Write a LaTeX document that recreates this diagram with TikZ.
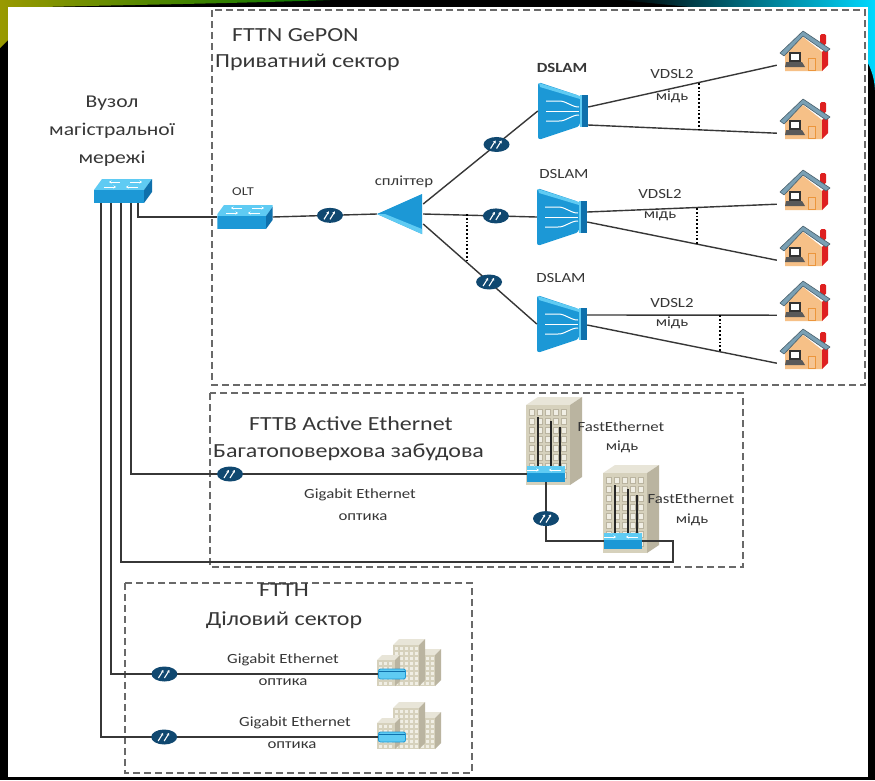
\documentclass[tikz,border=0pt]{standalone}
\usepackage{fontspec}
\setmainfont{Carlito}[FakeStretch=1.2]
\usetikzlibrary{arrows.meta,shapes.geometric,calc}

\definecolor{inkgray}{RGB}{55,55,55}
\definecolor{zonegray}{RGB}{105,105,105}
\definecolor{ciscoblue}{RGB}{28,152,214}
\definecolor{ciscolight}{RGB}{95,203,243}
\definecolor{ciscodeep}{RGB}{14,112,172}
\definecolor{linknavy}{RGB}{16,72,112}
\definecolor{wallsand}{RGB}{246,192,135}
\definecolor{roofslate}{RGB}{122,160,180}
\definecolor{brickred}{RGB}{222,32,32}
\definecolor{dooramber}{RGB}{236,150,60}
\definecolor{stone}{RGB}{214,209,188}
\definecolor{stoneside}{RGB}{186,180,160}
\definecolor{stonetop}{RGB}{232,229,216}
\definecolor{stonewin}{RGB}{240,238,228}

% one block of an office building: x, y (top left of front), width, height, depth
\newcommand\officeblock[5]{%
  \fill[stonetop] (#1,#2) -- ++(#5,-#5) -- ++(#3,0) -- ++(-#5,#5) -- cycle;
  \fill[stoneside] (#1+#3,#2) -- ++(#5,-#5) -- ++(0,#4) -- ++(-#5,#5) -- cycle;
  \fill[stone] (#1,#2) rectangle ++(#3,#4);
  \pgfmathtruncatemacro\ncols{(#3-1)/5}%
  \pgfmathtruncatemacro\nrows{(#4-1)/5}%
  \foreach \i in {1,...,\ncols}
    \foreach \j in {1,...,\nrows}
      \fill[stonewin] (#1-3+\i*5,#2-3+\j*5) rectangle ++(3,3);
}

\tikzset{
  % workgroup switch, #1 = scale
  swt/.style={minimum width=#1*58pt, minimum height=#1*24pt, inner sep=0pt,
    path picture={
      \begin{scope}[shift={(path picture bounding box.center)}, scale=#1]
        \fill[ciscolight] (-29,-1) -- (-21,-12) -- (29,-12) -- (21,-1) -- cycle;
        \fill[ciscoblue] (-29,-1) rectangle (21,12);
        \fill[ciscodeep] (21,-1) -- (29,-12) -- (29,1) -- (21,12) -- cycle;
        \draw[white, line width=0.8pt, -{Stealth[length=2.5pt,width=3pt]}] (-3,-9) -- (-14,-9);
        \draw[white, line width=0.8pt, -{Stealth[length=2.5pt,width=3pt]}] (7,-9) -- (19,-9);
        \draw[white, line width=0.8pt, -{Stealth[length=2.5pt,width=3pt]}] (-19,-4) -- (-7,-4);
        \draw[white, line width=0.8pt, -{Stealth[length=2.5pt,width=3pt]}] (15,-4) -- (3,-4);
      \end{scope}}},
  swt/.default=1,
  % optical link
  lnk/.style={ellipse, fill=linknavy, minimum width=26pt, minimum height=15pt, inner sep=0pt,
    path picture={
      \begin{scope}[shift={(path picture bounding box.center)}]
        \draw[white, line width=1.1pt, -{Stealth[length=2.6pt,width=3.2pt]}] (-6,4) -- (-1,-4);
        \draw[white, line width=1.1pt, -{Stealth[length=2.6pt,width=3.2pt]}] (0,4) -- (5,-4);
      \end{scope}}},
  dslam/.style={minimum width=50pt, minimum height=58pt, inner sep=0pt,
    path picture={
      \begin{scope}[shift={(path picture bounding box.center)}]
        \fill[ciscoblue, rounded corners=3pt] (-25,-29) -- (17,-15) -- (17,15) -- (-25,29) -- cycle;
        \fill[ciscolight] (-24,-28) -- (17,-15) -- (17,-12) -- (-23,-24) -- cycle;
        \fill[ciscodeep] (17,-16) rectangle (25,16);
        \fill[ciscolight] (17,-16) rectangle (19,16);
        \draw[white, line width=1pt] (-17,-10) -- (-4,-10) .. controls (4,-10) and (8,-4) .. (16,-4);
        \draw[white, line width=1pt] (-17,0) -- (16,0);
        \draw[white, line width=1pt] (-17,10) -- (-4,10) .. controls (4,10) and (8,4) .. (16,4);
      \end{scope}}},
  splitter/.style={minimum width=46pt, minimum height=40pt, inner sep=0pt,
    path picture={
      \begin{scope}[shift={(path picture bounding box.center)}]
        \fill[ciscoblue] (-23,0) -- (22,-20) -- (22,20) -- cycle;
        \fill[ciscolight] (-23,0) -- (22,20) -- (22,15) -- (-15,0) -- cycle;
      \end{scope}}},
  house/.style={minimum width=56pt, minimum height=42pt, inner sep=0pt,
    path picture={
      \begin{scope}[shift={(path picture bounding box.center)}]
        \fill[wallsand] (-20,2) -- (-2,-13) -- (17,2) -- (17,21) -- (-20,21) -- cycle;
        \fill[brickred] (17,2) -- (23,-3) -- (23,15) -- (17,21) -- cycle;
        \fill[brickred, rounded corners=1.5pt] (15,-16) rectangle (21,-5);
        \fill[roofslate, draw=roofslate!60!black, line width=0.6pt, line join=round]
          (-25,3) -- (-2,-19) -- (25,-1) -- (21,2) -- (-2,-14) -- (-21,6) -- cycle;
        \fill[dooramber!55, draw=dooramber, line width=0.8pt] (3,8) rectangle (10,20);
        \fill[white, draw=black!80, line width=1.3pt] (-15,3) rectangle (-5,11);
        \fill[black!65] (-19,12) -- (-3,12) -- (0,17) -- (-20,17) -- cycle;
      \end{scope}}},
  tower/.style={minimum width=56pt, minimum height=88pt, inner sep=0pt,
    path picture={
      \begin{scope}[shift={(path picture bounding box.center)}]
        \fill[stonetop] (-28,-36) -- (-16,-44) -- (28,-44) -- (16,-36) -- cycle;
        \fill[stoneside] (16,-36) -- (28,-44) -- (28,36) -- (16,44) -- cycle;
        \fill[stone] (-28,-36) rectangle (16,44);
        \foreach \i in {0,...,4}
          \foreach \j in {0,...,7}
            \fill[stonewin, draw=stoneside, line width=0.3pt] (-25+\i*8,-32+\j*9) rectangle ++(5,6);
        \draw[black!85, line width=1.3pt] (-16,-24) -- (-16,30) (-3,-20) -- (-3,30) (6,-14) -- (6,30);
      \end{scope}}},
  office/.style={minimum width=64pt, minimum height=50pt, inner sep=0pt,
    path picture={
      \begin{scope}[shift={(path picture bounding box.center)}]
        \officeblock{10}{-6}{16}{31}{6}
        \officeblock{-16}{-16}{26}{41}{6}
        \officeblock{-32}{-1}{18}{26}{5}
      \end{scope}}},
  ont/.style={minimum width=27pt, minimum height=10pt, inner sep=0pt, rounded corners=2pt,
    fill=ciscolight, draw=ciscoblue, line width=0.8pt,
    path picture={\draw[ciscodeep, line width=1.6pt]
      ([yshift=-2.5pt]path picture bounding box.north west) -- ([yshift=-2.5pt]path picture bounding box.north east);}}
}

\begin{document}
\begin{tikzpicture}[x=1pt, y=-1pt,
    wire/.style={draw=inkgray, line width=1.4pt},
    zone/.style={draw=zonegray, line width=1.2pt, dash pattern=on 7pt off 4pt},
    vmark/.style={draw=black, line width=1.8pt, dotted},
    ttl/.style={font=\fontsize{20}{28}\selectfont, text=inkgray, inner sep=0pt},
    lab/.style={font=\fontsize{14}{16}\selectfont, text=inkgray, inner sep=0pt}
  ]
  \useasboundingbox (0,0) rectangle (875,780);
  % slide frame
  \fill[black] (0,0) rectangle (875,780);
  \shade[left color=olive!80!yellow, right color=green!45!black]
    (0,0) -- (330,0) .. controls (220,4) and (60,6) .. (8,8) -- (8,40) -- (0,48) -- cycle;
  \shade[left color=black, right color=cyan!85!blue]
    (620,0) -- (875,0) -- (875,90) .. controls (872,30) and (800,8) .. (690,7) -- cycle;
  \fill[white] (8,7) rectangle (868,777);

  % zones
  \draw[zone] (212,10) rectangle (865,385);
  \draw[zone] (210,393) rectangle (743,567);
  \draw[zone] (125,583) rectangle (472,773);

  % titles
  \node[ttl, align=center, font=\fontsize{18}{28}\selectfont] (hub) at (112,131) {Вузол\\магістральної\\мережі};
  \node[ttl, anchor=west] (gptitle) at (232,35) {FTTN GePON};
  \node[ttl, anchor=west] (gpsub) at (215,62) {Приватний сектор};
  \node[ttl, anchor=west] (fbtitle) at (249,424) {FTTB Active Ethernet};
  \node[ttl, anchor=west] (fbsub) at (213,452) {Багатоповерхова забудова};
  \node[ttl] (fhtitle) at (284,590) {FTTH};
  \node[ttl] (fhsub) at (284,620) {Діловий сектор};

  % equipment
  \node[swt] (core) at (123,191) {};
  \node[swt=0.95] (olt) at (245,217) {};
  \node[lab, font=\fontsize{12}{14}\selectfont] (oltlab) at (243,192) {OLT};
  \node[splitter] (sp) at (400,214) {};
  \node[lab] (splab) at (404,182) {спліттер};
  \node[dslam] (d1) at (563,111) {};
  \node[dslam] (d2) at (562,217) {};
  \node[dslam] (d3) at (562,324) {};
  \node[lab, font=\fontsize{14}{16}\selectfont\bfseries] (d1lab) at (562,68) {DSLAM};
  \node[lab] (d2lab) at (564,174) {DSLAM};
  \node[lab] (d3lab) at (561,278) {DSLAM};
  \foreach \n/\y in {1/50, 2/118, 3/189, 4/245, 5/300, 6/348}
    \node[house] (h\n) at (805,\y) {};
  \node[tower] (fb1) at (554,441) {};
  \node[tower] (fb2) at (631,509) {};
  \node[swt=0.65] (fb1sw) at (546,474) {};
  \node[swt=0.65] (fb2sw) at (623,541) {};
  \node[office] (fh1) at (409,661) {};
  \node[office] (fh2) at (409,724) {};
  \node[ont] (fh1sw) at (392,674) {};
  \node[ont] (fh2sw) at (392,737) {};

  % GePON tree
  \draw[wire] (138,0 |- core.south) |- (olt.west);
  \draw[wire] (olt.east) -- node[lnk, pos=0.55] (gpl0) {} (sp.west);
  \draw[wire] ($(sp.east)+(0,-10)$) -- node[lnk, pos=0.64] (gpl1) {} (d1.west);
  \draw[wire] (sp.east) -- node[lnk, pos=0.64] (gpl2) {} (d2.west);
  \draw[wire] ($(sp.east)+(0,10)$) -- node[lnk, pos=0.58] (gpl3) {} (d3.west);
  \draw[vmark, line width=1.2pt] (467,214) -- (467,262);

  % copper drops
  \draw[wire] ($(d1.east)+(0,-4)$) -- ($(h1.south west)+(0,-6)$);
  \draw[wire] ($(d1.east)+(0,14)$) -- ($(h2.south west)+(0,-6)$);
  \draw[wire] ($(d2.east)+(0,-5)$) -- ($(h3.south west)+(0,-6)$);
  \draw[wire] ($(d2.east)+(0,5)$) -- ($(h4.south west)+(0,-6)$);
  \draw[wire] ($(d3.east)+(0,-9)$) -- ($(h5.south west)+(0,-6)$);
  \draw[wire] ($(d3.east)+(0,1)$) -- ($(h6.south west)+(0,-6)$);
  \draw[vmark] (699,83) -- (699,129);
  \draw[vmark] (697,208) -- (697,244);
  \draw[vmark] (720,315) -- (720,351);
  \node[lab] (v1a) at (672,74) {VDSL2};
  \node[lab] (v1b) at (672,97) {мідь};
  \node[lab] (v2a) at (660,194) {VDSL2};
  \node[lab] (v2b) at (660,215) {мідь};
  \node[lab] (v3a) at (672,303) {VDSL2};
  \node[lab] (v3b) at (672,323) {мідь};

  % FTTB
  \coordinate (fbturn) at (673,562);
  \draw[wire] (131,0 |- core.south) |- node[lnk, pos=0.625] (fbl0) {} (fb1sw.west);
  \draw[wire] (121,0 |- core.south) |- (fbturn) |- (fb2sw.east);
  \draw[wire] (fb1sw.south) |- node[lnk, pos=0.31] (fbl1) {} (fb2sw.west);
  \node[lab] (fbg1) at (360,495) {Gigabit Ethernet};
  \node[lab] (fbg2) at (363,517) {оптика};
  \node[lab] (fbf1) at (621,427) {FastEthernet};
  \node[lab] (fbf2) at (622,447) {мідь};
  \node[lab] (fbf3) at (691,499) {FastEthernet};
  \node[lab] (fbf4) at (692,520) {мідь};

  % FTTH
  \draw[wire] (111,0 |- core.south) |- node[lnk, pos=0.6] (fhl0) {} (fh1sw.west);
  \draw[wire] (101,0 |- core.south) |- node[lnk, pos=0.614] (fhl1) {} (fh2sw.west);
  \node[lab] (fhg1) at (283,660) {Gigabit Ethernet};
  \node[lab] (fhg2) at (283,682) {оптика};
  \node[lab] (fhg3) at (295,723) {Gigabit Ethernet};
  \node[lab] (fhg4) at (292,745) {оптика};
\end{tikzpicture}
\end{document}
